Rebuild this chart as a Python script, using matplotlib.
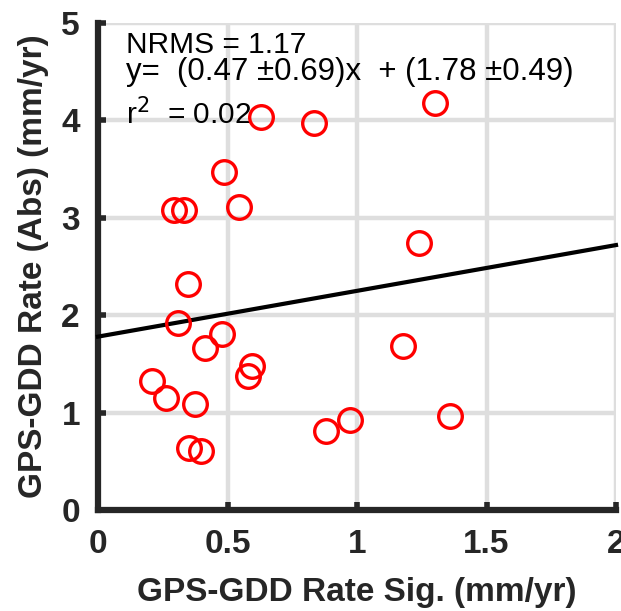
import matplotlib

matplotlib.use("Agg")
import matplotlib.pyplot as plt
import numpy as np

plt.rcParams["font.family"] = ["Liberation Sans", "DejaVu Sans"]

# rate uncertainty vs absolute rate difference, one point per station
rate_sig = [0.628, 0.833, 1.30, 0.488, 0.295, 0.333, 0.544, 1.24,
            0.349, 0.308, 0.479, 0.413, 0.593, 0.580, 1.178, 0.210,
            0.261, 0.376, 0.879, 0.974, 1.359, 0.350, 0.398]
rate_abs = [4.03, 3.97, 4.18, 3.47, 3.08, 3.08, 3.11, 2.745,
            2.325, 1.925, 1.805, 1.66, 1.477, 1.374, 1.68, 1.326,
            1.145, 1.09, 0.81, 0.92, 0.97, 0.633, 0.608]

slope, slope_err = 0.47, 0.69
icept, icept_err = 1.78, 0.49
nrms = 1.17
r2 = 0.02

fig = plt.figure(figsize=(6.21, 6.11), dpi=100)
ax = fig.add_axes([98 / 621, 1 - 510 / 611, 518 / 621, 487 / 611])

ax.set_xlim(0, 2)
ax.set_ylim(0, 5)
ax.set_xticks([0, 0.5, 1, 1.5, 2])
ax.set_xticklabels(["0", "0.5", "1", "1.5", "2"])
ax.set_yticks([0, 1, 2, 3, 4, 5])

ax.grid(True, color="#dedede", lw=3.2, zorder=0)
ax.set_axisbelow(True)
for side in ("top", "right"):
    ax.spines[side].set_visible(False)
for side in ("left", "bottom"):
    ax.spines[side].set_linewidth(4.5)
    ax.spines[side].set_color("#262626")
ax.tick_params(direction="in", length=6, width=4, color="#262626",
               labelsize=24)
ax.tick_params(axis="x", pad=14)
ax.tick_params(axis="y", pad=13)
for lbl in ax.get_xticklabels() + ax.get_yticklabels():
    lbl.set_fontweight("bold")
    lbl.set_color("#262626")

xf = np.array([0, 2])
ax.plot(xf, slope * xf + icept, color="black", lw=3, zorder=3, clip_on=False)
ax.plot(rate_sig, rate_abs, "o", ms=17, mfc="none", mec="red", mew=2.4,
        zorder=4, clip_on=False)

ax.text(0.108, 4.69, f"NRMS = {nrms:.2f}", fontsize=21.5, va="baseline")
ax.text(0.108, 4.415,
        f"y=  ({slope:.2f} \u00b1{slope_err:.2f})x  + ({icept:.2f} \u00b1{icept_err:.2f})",
        fontsize=22.5, va="baseline")
ax.text(0.108, 3.955, rf"r$^2$  = {r2:.2f}", fontsize=21.5, va="baseline")

ax.set_xlabel("GPS-GDD Rate Sig. (mm/yr)", fontsize=24, fontweight="bold",
              color="#262626", labelpad=12)
ax.set_ylabel("GPS-GDD Rate (Abs) (mm/yr)", fontsize=24, fontweight="bold",
              color="#262626", labelpad=9)

fig.savefig("out.png", dpi=100)
